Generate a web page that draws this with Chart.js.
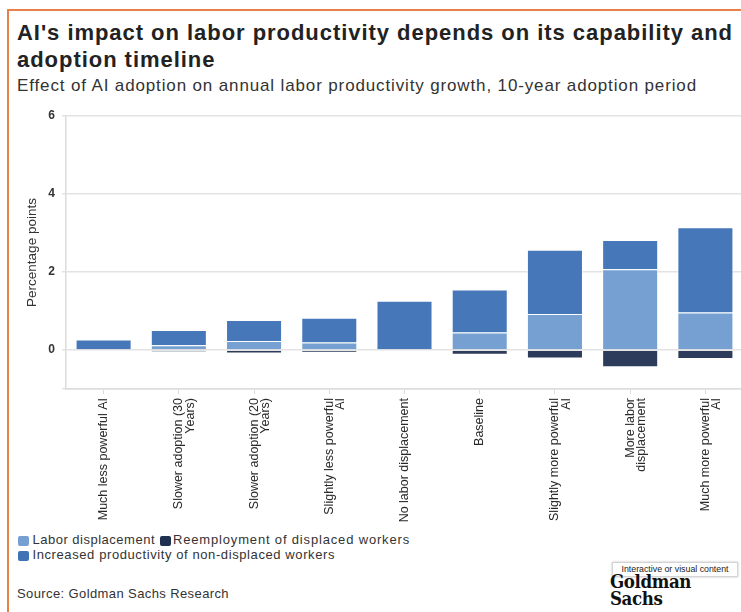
<!DOCTYPE html>
<html>
<head>
<meta charset="utf-8">
<script src="https://cdn.jsdelivr.net/npm/chart.js@4.4.1/dist/chart.umd.min.js"></script>
<style>
  html, body { margin: 0; padding: 0; background: #fff; width: 741px; height: 612px; overflow: hidden; position: relative; font-family: "Liberation Sans", Arial, sans-serif; color: #222; }
  .frame-left { position: absolute; left: 7px; top: 9px; width: 2px; height: 603px; background: #e8804a; }
  .frame-top { position: absolute; left: 7px; top: 9px; width: 734px; height: 2px; background: #e8804a; }
  .abs { position: absolute; white-space: nowrap; }
  .title { font-size: 22px; font-weight: bold; line-height: 27px; color: #222; }
  .subtitle { font-size: 17px; line-height: 20px; color: #333; }
  #wrap { position: absolute; left: 0; top: 100px; width: 750px; height: 430px; }
  .leg { font-size: 13px; line-height: 14px; color: #333; }
  .sw { position: absolute; width: 11px; height: 10px; border-radius: 2px; }
  .source { font-size: 13px; line-height: 14px; color: #333; }
  .tag { position: absolute; left: 612px; top: 562px; width: 124px; height: 13px; border: 1px solid #d4d4d4; box-shadow: 0 0 2px #bbb; background: #fff; font-family: "Liberation Sans", Arial, sans-serif; font-size: 8.8px; line-height: 13px; text-align: center; color: #222; white-space: nowrap; }
  .logo { position: absolute; left: 610px; top: 573px; font-family: "DejaVu Serif Condensed", "DejaVu Serif", serif; font-weight: bold; font-size: 18.5px; line-height: 17px; color: #111; letter-spacing: -0.4px; }
</style>
</head>
<body>
<div class="frame-left"></div>
<div class="frame-top"></div>
<span class="abs title" id="t1" style="left:17px; top:19px">AI's impact on labor productivity depends on its capability and</span>
<span class="abs title" id="t2" style="left:17px; top:46px">adoption timeline</span>
<span class="abs subtitle" id="st" style="left:17px; top:76px">Effect of AI adoption on annual labor productivity growth, 10-year adoption period</span>
<div id="wrap"><canvas id="c" width="750" height="430"></canvas></div>
<span class="sw" style="left:18px; top:536px; background:#76a0d2"></span>
<span class="abs leg" id="l1" style="left:32.5px; top:533px">Labor displacement</span>
<span class="sw" style="left:160px; top:536px; background:#1f3050"></span>
<span class="abs leg" id="l2" style="left:173px; top:533px">Reemployment of displaced workers</span>
<span class="sw" style="left:18px; top:550.5px; background:#4073b5"></span>
<span class="abs leg" id="l3" style="left:32.5px; top:547.5px">Increased productivity of non-displaced workers</span>
<span class="abs source" id="src" style="left:17px; top:587px">Source: Goldman Sachs Research</span>
<div class="tag">Interactive or visual content</div>
<div class="logo">Goldman<br>Sachs</div>
<script>
function fitWidth(el, target) {
  el.style.letterSpacing = '0px';
  const w = el.getBoundingClientRect().width;
  const ls = (target - w) / el.textContent.length;
  el.style.letterSpacing = ls + 'px';
  return ls;
}
const tls = fitWidth(document.getElementById('t1'), 716);
document.getElementById('t2').style.letterSpacing = tls + 'px';
fitWidth(document.getElementById('st'), 680);
fitWidth(document.getElementById('l1'), 122.5);
fitWidth(document.getElementById('l2'), 237);
fitWidth(document.getElementById('l3'), 302.5);
fitWidth(document.getElementById('src'), 212);

const categories = [
  "Much less powerful AI",
  ["Slower adoption (30", "Years)"],
  ["Slower adoption (20", "Years)"],
  ["Slightly less powerful", "AI"],
  "No labor displacement",
  "Baseline",
  ["Slightly more powerful", "AI"],
  ["More labor", "displacement"],
  ["Much more powerful", "AI"]
];
const laborDisplacement = [0, 0.12, 0.23, 0.19, 0, 0.45, 0.92, 2.07, 0.96];
const increasedProductivity = [0.27, 0.39, 0.54, 0.64, 1.26, 1.10, 1.65, 0.75, 2.19];
const reemployment = [0, -0.05, -0.09, -0.07, 0, -0.12, -0.22, -0.44, -0.23];
const yTicks = [0, 2, 4, 6];

const FONT = '"Liberation Sans", Arial, sans-serif';
new Chart(document.getElementById('c'), {
  type: 'bar',
  data: {
    labels: categories,
    datasets: [
      { label: 'Labor displacement', data: laborDisplacement, backgroundColor: '#76a0d2', borderColor: 'rgba(255,255,255,0.75)', borderWidth: 1, stack: 's' },
      { label: 'Increased productivity of non-displaced workers', data: increasedProductivity, backgroundColor: '#4677b8', borderColor: 'rgba(255,255,255,0.75)', borderWidth: 1, stack: 's' },
      { label: 'Reemployment of displaced workers', data: reemployment, backgroundColor: '#2d3c5a', borderColor: 'rgba(255,255,255,0.75)', borderWidth: 1, stack: 's' }
    ]
  },
  options: {
    responsive: false,
    animation: false,
    layout: { padding: { left: 21, right: 7, top: 16, bottom: 0 } },
    plugins: { legend: { display: false }, title: { display: false }, tooltip: { enabled: false } },
    datasets: { bar: { categoryPercentage: 1, barPercentage: 0.745 } },
    scales: {
      x: {
        stacked: true,
        grid: { drawOnChartArea: false, drawTicks: true, tickLength: 5, color: '#dcdcdc', offset: false },
        border: { display: true, color: '#dcdcdc', width: 1.5 },
        ticks: { maxRotation: 90, minRotation: 90, autoSkip: false, padding: 4, color: '#2a2a2a', font: { family: FONT, size: 12.5, lineHeight: 0.9 } },
        afterFit(scale) { scale.height = 141; }
      },
      y: {
        stacked: true,
        min: -1, max: 6,
        afterBuildTicks(scale) { scale.ticks = [-1].concat(yTicks).map(v => ({ value: v })); },
        ticks: { padding: 7, color: '#333', font: { family: FONT, size: 12, weight: 'bold' }, callback: v => (yTicks.includes(v) ? String(v) : '') },
        grid: { color: '#e3e3e3', lineWidth: 1.5, tickLength: 4 },
        border: { display: true, color: '#dcdcdc', width: 1.5 },
        title: { display: true, text: 'Percentage points', color: '#333', font: { family: FONT, size: 13.5 }, padding: { top: 3, bottom: 3 } },
        afterFit(scale) { scale.width = 45; }
      }
    }
  }
});
</script>
</body>
</html>
